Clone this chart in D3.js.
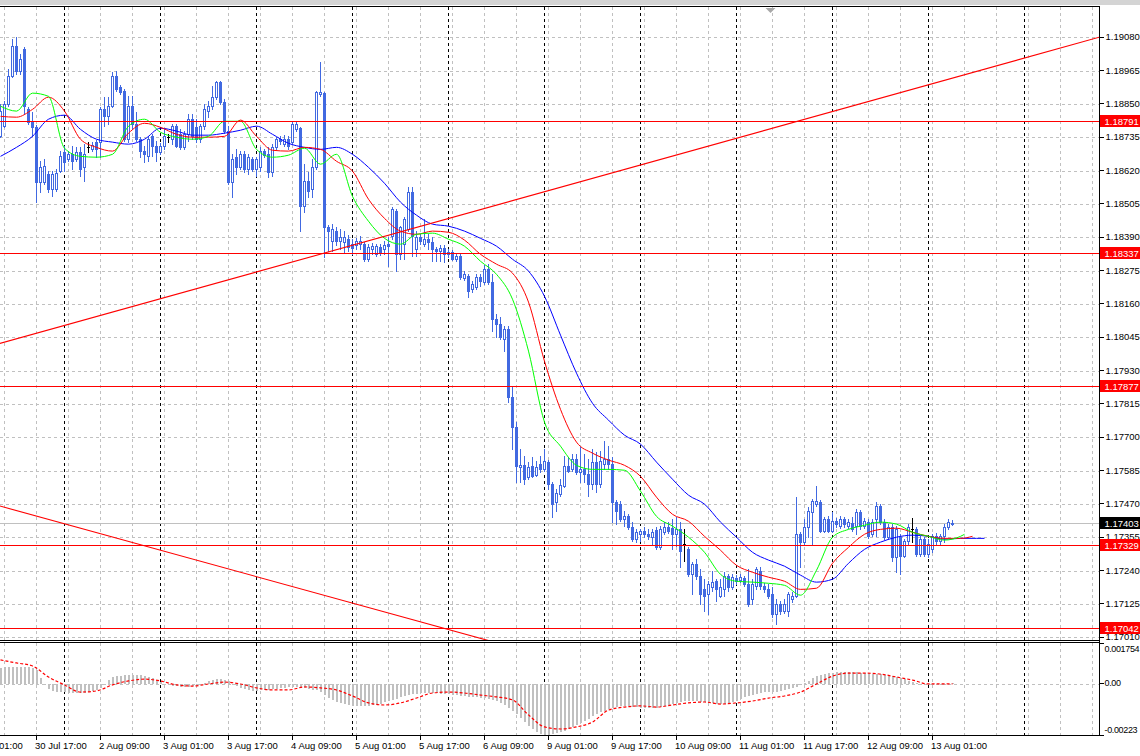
<!DOCTYPE html>
<html><head><meta charset="utf-8">
<script src="https://cdn.jsdelivr.net/npm/d3@7/dist/d3.min.js"></script>
<style>
html,body{margin:0;padding:0;background:#fff;}
svg{display:block;}
</style></head><body>
<svg id="chart" width="1140" height="756"></svg>
<script>
// ---------------- DATA ----------------
// EURUSD H1, bar 0 = 30 Jul 08:00, 24 bars per day
const opens = [
1.18738,1.18773,1.18849,1.18945,1.19049,1.18963,1.19038,1.18831,1.18790,1.18769,
1.18580,1.18580,1.18607,1.18555,1.18555,1.18618,1.18683,1.18659,1.18676,1.18659,
1.18683,1.18631,1.18700,1.18693,1.18718,1.18718,1.18831,1.18807,1.18842,1.18945,
1.18907,1.18894,1.18728,1.18842,1.18780,1.18728,1.18687,1.18669,1.18738,1.18704,
1.18683,1.18704,1.18735,1.18728,1.18773,1.18745,1.18700,1.18745,1.18797,1.18769,
1.18728,1.18773,1.18825,1.18842,1.18873,1.18925,1.18856,1.18756,1.18580,1.18666,
1.18631,1.18676,1.18624,1.18659,1.18624,1.18631,1.18687,1.18676,1.18614,1.18700,
1.18728,1.18711,1.18728,1.18718,1.18762,1.18766,1.18497,1.18583,1.18555,1.18631,
1.18883,1.18887,1.18424,1.18376,1.18411,1.18376,1.18373,1.18383,1.18366,1.18362,
1.18366,1.18366,1.18314,1.18348,1.18331,1.18355,1.18348,1.18366,1.18393,1.18480,
1.18331,1.18366,1.18417,1.18545,1.18348,1.18390,1.18366,1.18383,1.18373,1.18348,
1.18342,1.18352,1.18331,1.18338,1.18314,1.18324,1.18248,1.18255,1.18210,1.18217,
1.18252,1.18235,1.18279,1.18235,1.18107,1.18090,1.18038,1.18072,1.17838,1.17734,
1.17596,1.17603,1.17562,1.17600,1.17569,1.17607,1.17589,1.17614,1.17538,1.17476,
1.17503,1.17531,1.17600,1.17589,1.17624,1.17579,1.17589,1.17572,1.17538,1.17614,
1.17538,1.17607,1.17624,1.17607,1.17476,1.17469,1.17417,1.17427,1.17389,1.17348,
1.17365,1.17376,1.17365,1.17355,1.17379,1.17320,1.17372,1.17389,1.17386,1.17365,
1.17382,1.17331,1.17313,1.17227,1.17262,1.17220,1.17175,1.17158,1.17182,1.17203,
1.17151,1.17175,1.17220,1.17182,1.17213,1.17207,1.17213,1.17193,1.17141,1.17186,
1.17238,1.17186,1.17175,1.17158,1.17089,1.17124,1.17100,1.17100,1.17141,1.17151,
1.17365,1.17338,1.17389,1.17441,1.17469,1.17476,1.17376,1.17417,1.17376,1.17410,
1.17393,1.17417,1.17393,1.17403,1.17393,1.17441,1.17393,1.17407,1.17365,1.17417,
1.17462,1.17407,1.17355,1.17389,1.17286,1.17355,1.17289,1.17341,1.17382,1.17382,
1.17296,1.17348,1.17296,1.17313,1.17358,1.17341,1.17358,1.17389,1.17400];
const highs = [
1.18849,1.18859,1.18969,1.19073,1.19080,1.19021,1.19045,1.18838,1.18821,1.18776,
1.18652,1.18659,1.18618,1.18618,1.18624,1.18687,1.18704,1.18687,1.18704,1.18700,
1.18700,1.18711,1.18718,1.18718,1.18725,1.18838,1.18873,1.18873,1.18959,1.18963,
1.18914,1.18900,1.18876,1.18876,1.18821,1.18735,1.18704,1.18738,1.18745,1.18721,
1.18714,1.18762,1.18745,1.18780,1.18780,1.18762,1.18756,1.18814,1.18814,1.18797,
1.18780,1.18849,1.18859,1.18911,1.18928,1.18928,1.18866,1.18773,1.18676,1.18693,
1.18687,1.18687,1.18676,1.18666,1.18666,1.18700,1.18693,1.18700,1.18711,1.18735,
1.18738,1.18742,1.18738,1.18790,1.18790,1.18769,1.18642,1.18614,1.18659,1.18894,
1.18994,1.18890,1.18431,1.18435,1.18424,1.18417,1.18411,1.18397,1.18383,1.18386,
1.18393,1.18373,1.18366,1.18369,1.18366,1.18366,1.18376,1.18390,1.18493,1.18486,
1.18428,1.18459,1.18562,1.18562,1.18411,1.18400,1.18452,1.18400,1.18390,1.18355,
1.18362,1.18362,1.18348,1.18345,1.18331,1.18331,1.18273,1.18262,1.18238,1.18262,
1.18262,1.18293,1.18297,1.18262,1.18124,1.18114,1.18083,1.18083,1.17872,1.17752,
1.17658,1.17634,1.17614,1.17631,1.17617,1.17634,1.17658,1.17621,1.17545,1.17520,
1.17555,1.17634,1.17631,1.17641,1.17641,1.17665,1.17641,1.17624,1.17658,1.17648,
1.17652,1.17686,1.17669,1.17631,1.17483,1.17479,1.17445,1.17434,1.17407,1.17382,
1.17382,1.17389,1.17382,1.17382,1.17389,1.17393,1.17407,1.17407,1.17417,1.17424,
1.17407,1.17382,1.17320,1.17269,1.17279,1.17244,1.17210,1.17203,1.17238,1.17210,
1.17210,1.17234,1.17227,1.17227,1.17224,1.17227,1.17220,1.17244,1.17210,1.17251,
1.17251,1.17196,1.17193,1.17182,1.17141,1.17134,1.17141,1.17165,1.17165,1.17493,
1.17372,1.17417,1.17458,1.17486,1.17531,1.17483,1.17424,1.17427,1.17441,1.17420,
1.17427,1.17424,1.17417,1.17424,1.17451,1.17448,1.17420,1.17417,1.17417,1.17476,
1.17469,1.17417,1.17400,1.17400,1.17393,1.17365,1.17348,1.17400,1.17420,1.17389,
1.17358,1.17355,1.17348,1.17365,1.17369,1.17365,1.17400,1.17417,1.17414];
const lows = [
1.18735,1.18769,1.18842,1.18942,1.18952,1.18952,1.18814,1.18780,1.18738,1.18511,
1.18545,1.18573,1.18545,1.18531,1.18549,1.18614,1.18618,1.18652,1.18624,1.18652,
1.18600,1.18583,1.18683,1.18687,1.18666,1.18666,1.18773,1.18780,1.18838,1.18894,
1.18883,1.18721,1.18718,1.18762,1.18721,1.18666,1.18649,1.18652,1.18669,1.18652,
1.18676,1.18693,1.18718,1.18711,1.18700,1.18693,1.18693,1.18721,1.18728,1.18718,
1.18718,1.18762,1.18804,1.18831,1.18866,1.18849,1.18749,1.18573,1.18528,1.18607,
1.18624,1.18614,1.18607,1.18618,1.18600,1.18618,1.18666,1.18597,1.18600,1.18693,
1.18711,1.18704,1.18693,1.18711,1.18756,1.18411,1.18476,1.18528,1.18528,1.18624,
1.18876,1.18321,1.18342,1.18342,1.18362,1.18348,1.18338,1.18342,1.18331,1.18348,
1.18348,1.18307,1.18307,1.18331,1.18324,1.18328,1.18331,1.18290,1.18383,1.18273,
1.18314,1.18314,1.18411,1.18324,1.18324,1.18366,1.18359,1.18348,1.18307,1.18307,
1.18307,1.18304,1.18321,1.18311,1.18307,1.18245,1.18242,1.18183,1.18200,1.18210,
1.18221,1.18228,1.18228,1.18066,1.18045,1.18038,1.17997,1.17821,1.17658,1.17545,
1.17545,1.17538,1.17555,1.17562,1.17565,1.17579,1.17583,1.17520,1.17424,1.17445,
1.17496,1.17527,1.17579,1.17583,1.17572,1.17545,1.17545,1.17496,1.17520,1.17510,
1.17527,1.17589,1.17589,1.17407,1.17400,1.17410,1.17393,1.17382,1.17341,1.17338,
1.17341,1.17355,1.17348,1.17327,1.17313,1.17313,1.17365,1.17369,1.17313,1.17324,
1.17251,1.17272,1.17220,1.17158,1.17210,1.17124,1.17100,1.17089,1.17169,1.17134,
1.17148,1.17151,1.17169,1.17175,1.17193,1.17200,1.17186,1.17117,1.17124,1.17175,
1.17175,1.17165,1.17144,1.17079,1.17055,1.17089,1.17093,1.17082,1.17131,1.17148,
1.17251,1.17331,1.17355,1.17331,1.17462,1.17372,1.17372,1.17372,1.17372,1.17389,
1.17386,1.17389,1.17386,1.17376,1.17365,1.17382,1.17386,1.17351,1.17358,1.17358,
1.17400,1.17348,1.17348,1.17272,1.17234,1.17227,1.17286,1.17331,1.17338,1.17289,
1.17289,1.17289,1.17286,1.17303,1.17331,1.17331,1.17338,1.17382,1.17396];
const closes = [
1.18825,1.18849,1.18945,1.19049,1.18963,1.19004,1.18842,1.18787,1.18769,1.18580,
1.18631,1.18635,1.18555,1.18607,1.18611,1.18669,1.18649,1.18676,1.18652,1.18683,
1.18624,1.18676,1.18700,1.18707,1.18693,1.18831,1.18807,1.18842,1.18945,1.18900,
1.18890,1.18728,1.18842,1.18780,1.18728,1.18687,1.18676,1.18728,1.18704,1.18683,
1.18704,1.18738,1.18735,1.18773,1.18704,1.18700,1.18745,1.18797,1.18738,1.18728,
1.18773,1.18831,1.18842,1.18873,1.18925,1.18856,1.18756,1.18580,1.18659,1.18631,
1.18676,1.18624,1.18666,1.18624,1.18659,1.18687,1.18673,1.18614,1.18700,1.18728,
1.18721,1.18728,1.18704,1.18780,1.18780,1.18497,1.18583,1.18549,1.18631,1.18890,
1.18890,1.18424,1.18411,1.18417,1.18376,1.18390,1.18390,1.18355,1.18352,1.18376,
1.18376,1.18314,1.18355,1.18359,1.18359,1.18338,1.18362,1.18359,1.18486,1.18331,
1.18424,1.18452,1.18545,1.18393,1.18390,1.18376,1.18383,1.18373,1.18348,1.18342,
1.18352,1.18331,1.18338,1.18314,1.18324,1.18252,1.18262,1.18204,1.18228,1.18252,
1.18238,1.18279,1.18235,1.18107,1.18090,1.18045,1.18072,1.17838,1.17734,1.17600,
1.17603,1.17555,1.17596,1.17565,1.17596,1.17589,1.17617,1.17538,1.17469,1.17507,
1.17534,1.17600,1.17583,1.17624,1.17579,1.17589,1.17572,1.17538,1.17614,1.17538,
1.17617,1.17624,1.17607,1.17476,1.17445,1.17417,1.17427,1.17389,1.17348,1.17372,
1.17376,1.17365,1.17358,1.17372,1.17320,1.17382,1.17389,1.17376,1.17365,1.17382,
1.17307,1.17331,1.17227,1.17262,1.17220,1.17158,1.17151,1.17193,1.17200,1.17175,
1.17182,1.17220,1.17182,1.17217,1.17203,1.17217,1.17193,1.17124,1.17193,1.17244,
1.17186,1.17175,1.17151,1.17089,1.17124,1.17100,1.17124,1.17158,1.17151,1.17365,
1.17338,1.17389,1.17445,1.17479,1.17479,1.17376,1.17417,1.17376,1.17410,1.17400,
1.17417,1.17400,1.17407,1.17382,1.17441,1.17393,1.17410,1.17358,1.17407,1.17462,
1.17407,1.17355,1.17389,1.17286,1.17382,1.17289,1.17341,1.17389,1.17382,1.17296,
1.17348,1.17296,1.17331,1.17358,1.17341,1.17358,1.17389,1.17407,1.17403];

// Alligator lines, one value every 4 bars, last value at the given bar (lines are shifted forward)
const jawValues = [1.18669,1.18700,1.18738,1.18797,1.18811,1.18762,1.18728,1.18718,1.18711,1.18728,
1.18766,1.18756,1.18742,1.18742,1.18749,1.18759,1.18773,1.18745,1.18714,1.18700,
1.18693,1.18700,1.18676,1.18631,1.18576,1.18511,1.18466,1.18435,1.18428,1.18411,
1.18386,1.18359,1.18314,1.18273,1.18186,1.18052,1.17921,1.17817,1.17759,1.17707,
1.17676,1.17614,1.17555,1.17500,1.17469,1.17407,1.17355,1.17303,1.17276,1.17255,
1.17224,1.17200,1.17210,1.17265,1.17313,1.17338,1.17355,1.17362,1.17358,1.17348,
1.17351,1.17351,1.17351];
const jawLastBar = 246;
const teethValues = [1.18807,1.18804,1.18831,1.18873,1.18825,1.18728,1.18700,1.18687,1.18749,1.18783,
1.18769,1.18745,1.18735,1.18735,1.18738,1.18794,1.18738,1.18690,1.18687,1.18700,
1.18693,1.18652,1.18618,1.18521,1.18455,1.18411,1.18400,1.18411,1.18407,1.18380,
1.18331,1.18297,1.18266,1.18166,1.17962,1.17796,1.17683,1.17645,1.17621,1.17603,
1.17565,1.17493,1.17434,1.17410,1.17358,1.17310,1.17258,1.17234,1.17217,1.17203,
1.17175,1.17179,1.17265,1.17320,1.17365,1.17382,1.17386,1.17372,1.17358,1.17351,
1.17351,1.17358];
const teethLastBar = 243;
const lipsValues = [1.18842,1.18825,1.18887,1.18876,1.18697,1.18669,1.18666,1.18676,1.18773,1.18797,
1.18752,1.18735,1.18728,1.18738,1.18790,1.18790,1.18693,1.18666,1.18673,1.18697,
1.18642,1.18676,1.18531,1.18445,1.18386,1.18366,1.18400,1.18404,1.18383,1.18359,
1.18307,1.18262,1.18176,1.17997,1.17752,1.17669,1.17603,1.17589,1.17589,1.17586,
1.17514,1.17427,1.17393,1.17355,1.17303,1.17227,1.17203,1.17200,1.17196,1.17189,
1.17155,1.17241,1.17355,1.17382,1.17396,1.17407,1.17400,1.17372,1.17358,1.17345,
1.17358,1.17365];
const lipsLastBar = 241;

// MACD (12,26,9): main histogram one value per bar, signal every 4 bars
const macdHist = [
0.00067,0.00071,0.00071,0.00071,0.00071,0.00071,0.00071,0.00071,0.00067,0.00058,
0.00024,-0.00006,-0.00024,-0.00032,-0.00037,-0.00037,-0.00037,-0.00041,-0.00041,-0.00041,
-0.00041,-0.00041,-0.00037,-0.00032,-0.00028,-0.00019,-0.00002,0.00015,0.00028,0.00032,
0.00032,0.00037,0.00037,0.00037,0.00037,0.00037,0.00032,0.00028,0.00024,0.00015,
0.00006,-0.00002,-0.00006,-0.00011,-0.00011,-0.00015,-0.00015,-0.00015,-0.00011,-0.00011,
-0.00006,0.00002,0.00011,0.00015,0.00019,0.00019,0.00015,0.00011,-0.00002,-0.00011,
-0.00019,-0.00024,-0.00028,-0.00032,-0.00032,-0.00028,-0.00028,-0.00028,-0.00024,-0.00024,
-0.00019,-0.00019,-0.00015,-0.00015,-0.00015,-0.00019,-0.00019,-0.00024,-0.00028,-0.00028,
-0.00037,-0.00050,-0.00063,-0.00071,-0.00080,-0.00084,-0.00089,-0.00093,-0.00097,-0.00097,
-0.00097,-0.00097,-0.00097,-0.00093,-0.00093,-0.00089,-0.00080,-0.00076,-0.00071,-0.00067,
-0.00058,-0.00054,-0.00050,-0.00045,-0.00045,-0.00041,-0.00041,-0.00041,-0.00041,-0.00041,
-0.00045,-0.00045,-0.00045,-0.00050,-0.00050,-0.00054,-0.00054,-0.00058,-0.00058,-0.00058,
-0.00063,-0.00063,-0.00067,-0.00071,-0.00076,-0.00084,-0.00093,-0.00106,-0.00119,-0.00132,
-0.00149,-0.00167,-0.00184,-0.00197,-0.00210,-0.00219,-0.00223,-0.00223,-0.00219,-0.00214,
-0.00210,-0.00206,-0.00197,-0.00188,-0.00180,-0.00171,-0.00162,-0.00154,-0.00141,-0.00132,
-0.00123,-0.00119,-0.00110,-0.00106,-0.00102,-0.00097,-0.00097,-0.00097,-0.00102,-0.00102,
-0.00106,-0.00106,-0.00106,-0.00106,-0.00106,-0.00102,-0.00097,-0.00093,-0.00089,-0.00084,
-0.00080,-0.00076,-0.00076,-0.00076,-0.00076,-0.00080,-0.00080,-0.00084,-0.00084,-0.00089,
-0.00089,-0.00089,-0.00084,-0.00080,-0.00076,-0.00067,-0.00058,-0.00054,-0.00050,-0.00045,
-0.00041,-0.00037,-0.00037,-0.00037,-0.00037,-0.00032,-0.00028,-0.00024,-0.00019,-0.00015,
-0.00006,0.00002,0.00011,0.00024,0.00032,0.00037,0.00041,0.00045,0.00045,0.00050,
0.00050,0.00050,0.00050,0.00050,0.00050,0.00045,0.00045,0.00045,0.00041,0.00041,
0.00041,0.00037,0.00037,0.00032,0.00028,0.00024,0.00019,0.00011,0.00006,0.00002,
-0.00002,-0.00006,-0.00006,-0.00006,-0.00006,-0.00006,-0.00002,-0.00002,0.00002];
const signalValues = [0.00102,0.00089,0.00076,0.00028,-0.00006,-0.00037,-0.00032,-0.00006,0.00011,0.00019,
0.00011,-0.00006,-0.00011,-0.00002,0.00006,-0.00002,-0.00019,-0.00028,-0.00028,-0.00015,
-0.00019,-0.00028,-0.00054,-0.00084,-0.00093,-0.00084,-0.00063,-0.00041,-0.00037,-0.00041,
-0.00050,-0.00058,-0.00071,-0.00136,-0.00188,-0.00197,-0.00188,-0.00167,-0.00115,-0.00102,
-0.00097,-0.00102,-0.00093,-0.00084,-0.00080,-0.00089,-0.00084,-0.00076,-0.00063,-0.00054,
-0.00037,-0.00002,0.00032,0.00045,0.00045,0.00041,0.00028,0.00015,-0.00002,-0.00002,
-0.00002];
const signalLastBar = 238;

// Price levels / objects
const redLevels = [1.18791, 1.18337, 1.17877, 1.17329, 1.17042];
const bidPrice = 1.17403;
const trendUpBars = [0, 270], trendUpPrices = [1.18024, 1.19062];
const trendDownBars = [0, 120], trendDownPrices = [1.17462, 1.17006];

// Axis ticks
const priceTicks = [1.19080,1.18965,1.18850,1.18735,1.18620,1.18505,1.18390,1.18275,1.18160,1.18045,
1.17930,1.17815,1.17700,1.17585,1.17470,1.17355,1.17240,1.17125,1.17010];
const macdTicks = [0.001754, 0, -0.00223];
const macdTickLabels = ["0.001754", "0.00", "-0.00223"];
const timeLabels = ["30 Jul 01:00","30 Jul 17:00","2 Aug 09:00","3 Aug 01:00","3 Aug 17:00","4 Aug 09:00",
"5 Aug 01:00","5 Aug 17:00","6 Aug 09:00","9 Aug 01:00","9 Aug 17:00","10 Aug 09:00","11 Aug 01:00",
"11 Aug 17:00","12 Aug 09:00","13 Aug 01:00"];
const timeBars = [-7,9,25,41,57,73,89,105,121,137,153,169,185,201,217,233];

// ---------------- DRAWING ----------------
const FONT = "'Liberation Sans', Arial, sans-serif";
const FS = 9.5;
const svg = d3.select("#chart");
const plotR = 1099, mainTop = 7, mainBot = 640, macdTop = 643, macdBot = 735;

const x = d3.scaleLinear().domain([0, 274]).range([0.5, 1096.5]);
const y = d3.scaleLinear().domain([1.17010, 1.19080]).range([637.2, 37.2]);
const ym = d3.scaleLinear().domain([-0.00223, 0.001754]).range([735, 643]);
const crisp = v => Math.round(v) + 0.5;

svg.append("rect").attr("width", 1140).attr("height", 756).attr("fill", "#fff");
svg.append("rect").attr("width", 1140).attr("height", 5).attr("fill", "#d4d4d4");

const defs = svg.append("defs");
defs.append("clipPath").attr("id", "cm").append("rect")
  .attr("x", 0).attr("y", mainTop).attr("width", plotR).attr("height", mainBot - mainTop);
defs.append("clipPath").attr("id", "cd").append("rect")
  .attr("x", 0).attr("y", macdTop).attr("width", plotR).attr("height", macdBot - macdTop);

const gMain = svg.append("g").attr("clip-path", "url(#cm)");
const gMacd = svg.append("g").attr("clip-path", "url(#cd)");

// grids
const gridBars = d3.range(1, 275, 8);
const dayBars = d3.range(16, 275, 24);
[[gMain, mainTop, mainBot], [gMacd, macdTop, macdBot]].forEach(([g, t, b]) => {
  const gg = g.append("g").attr("shape-rendering", "crispEdges");
  gg.selectAll("line.vg").data(gridBars).join("line")
    .attr("x1", d => x(d)).attr("x2", d => x(d)).attr("y1", t).attr("y2", b)
    .attr("stroke", "#c0c0c0").attr("stroke-dasharray", "3,3");
  gg.selectAll("line.sep").data(dayBars).join("line")
    .attr("x1", d => x(d)).attr("x2", d => x(d)).attr("y1", t).attr("y2", b)
    .attr("stroke", "#000").attr("stroke-dasharray", "3,3");
});
gMain.append("g").attr("shape-rendering", "crispEdges")
  .selectAll("line").data(priceTicks).join("line")
  .attr("x1", 0).attr("x2", plotR).attr("y1", d => crisp(y(d))).attr("y2", d => crisp(y(d)))
  .attr("stroke", "#c0c0c0").attr("stroke-dasharray", "3,3");
gMacd.append("line").attr("shape-rendering", "crispEdges")
  .attr("x1", 0).attr("x2", plotR).attr("y1", crisp(ym(0))).attr("y2", crisp(ym(0)))
  .attr("stroke", "#c0c0c0").attr("stroke-dasharray", "3,3");

// bid line
gMain.append("line").attr("shape-rendering", "crispEdges")
  .attr("x1", 0).attr("x2", plotR).attr("y1", crisp(y(bidPrice))).attr("y2", crisp(y(bidPrice)))
  .attr("stroke", "#c0c0c0");

// candles
const CAND = "#4169e1";
const gc = gMain.append("g").attr("shape-rendering", "crispEdges");
opens.forEach((o, i) => {
  const h = highs[i], l = lows[i], c = closes[i];
  const cx = x(i);
  const doji = o === c;
  const col = doji ? "#000" : CAND;
  const top = Math.round(y(h)), bot = Math.round(y(l));
  gc.append("line").attr("x1", cx).attr("x2", cx).attr("y1", top).attr("y2", bot + 1).attr("stroke", col);
  const bt = Math.round(y(Math.max(o, c))), bb = Math.round(y(Math.min(o, c)));
  if (doji) {
    gc.append("line").attr("x1", cx - 1.5).attr("x2", cx + 1.5).attr("y1", bt + 0.5).attr("y2", bt + 0.5).attr("stroke", "#000");
  } else if (c > o) {
    gc.append("rect").attr("x", cx - 1).attr("y", bt + 0.5).attr("width", 2).attr("height", Math.max(bb - bt, 0))
      .attr("fill", "#fff").attr("stroke", col);
  } else {
    gc.append("rect").attr("x", cx - 1.5).attr("y", bt).attr("width", 3).attr("height", Math.max(bb - bt + 1, 1))
      .attr("fill", col);
  }
});

// Alligator
const toPts = (vals, lastBar) => vals.map((v, i) => [i === vals.length - 1 ? lastBar : i * 4, v]);
const maLine = d3.line().x(d => x(d[0])).y(d => y(d[1])).curve(d3.curveMonotoneX);
[[jawValues, jawLastBar, "#0000ff"], [teethValues, teethLastBar, "#ff0000"], [lipsValues, lipsLastBar, "#00ff00"]]
  .forEach(([vals, last, col]) => {
    gMain.append("path").attr("d", maLine(toPts(vals, last))).attr("fill", "none")
      .attr("stroke", col).attr("stroke-width", 1);
  });

// horizontal red levels
gMain.append("g").attr("shape-rendering", "crispEdges").selectAll("line").data(redLevels).join("line")
  .attr("x1", 0).attr("x2", plotR).attr("y1", d => crisp(y(d))).attr("y2", d => crisp(y(d)))
  .attr("stroke", "#ff0000");

// trend lines (extended)
function trend(bars, prices) {
  const k = (prices[1] - prices[0]) / (bars[1] - bars[0]);
  const b0 = -2, b1 = 276;
  gMain.append("line")
    .attr("x1", x(b0)).attr("y1", y(prices[0] + k * (b0 - bars[0])))
    .attr("x2", x(b1)).attr("y2", y(prices[0] + k * (b1 - bars[0])))
    .attr("stroke", "#ff0000").attr("stroke-width", 1.1);
}
trend(trendUpBars, trendUpPrices);
trend(trendDownBars, trendDownPrices);

// MACD histogram + signal
const z0 = Math.round(ym(0));
gMacd.append("g").attr("shape-rendering", "crispEdges")
  .selectAll("rect").data(macdHist).join("rect")
  .attr("x", (d, i) => x(i) - 0.5).attr("width", 2)
  .attr("y", d => Math.min(z0, Math.round(ym(d))))
  .attr("height", d => Math.max(1, Math.abs(Math.round(ym(d)) - z0)))
  .attr("fill", "#c0c0c0");
const sigLine = d3.line().x(d => x(d[0])).y(d => ym(d[1])).curve(d3.curveMonotoneX);
gMacd.append("path").attr("d", sigLine(toPts(signalValues, signalLastBar))).attr("fill", "none")
  .attr("stroke", "#ff0000").attr("stroke-width", 1.2).attr("stroke-dasharray", "3,2");

// top marker
svg.append("path").attr("d", "M765.5,8 L775.5,8 L770.5,13 Z").attr("fill", "#a8a8a8");

// borders
const gb = svg.append("g").attr("shape-rendering", "crispEdges").attr("stroke", "#000");
gb.append("line").attr("x1", 0).attr("x2", 1100).attr("y1", 6.5).attr("y2", 6.5);
gb.append("line").attr("x1", 0).attr("x2", 1100).attr("y1", 640.5).attr("y2", 640.5);
gb.append("line").attr("x1", 0).attr("x2", 1100).attr("y1", 642.5).attr("y2", 642.5);
gb.append("line").attr("x1", 0).attr("x2", 1100).attr("y1", 735.5).attr("y2", 735.5);
gb.append("line").attr("x1", 1099.5).attr("x2", 1099.5).attr("y1", 6).attr("y2", 736);

// price axis
const ax = svg.append("g").attr("transform", "translate(1099.5,0)")
  .call(d3.axisRight(y).tickValues(priceTicks).tickFormat(d3.format(".5f")).tickSize(4).tickPadding(2).offset(0));
ax.select(".domain").remove();
ax.attr("font-family", FONT).attr("font-size", FS).attr("shape-rendering", "crispEdges");

// MACD axis
const mx = svg.append("g").attr("transform", "translate(1099.5,0)")
  .call(d3.axisRight(ym).tickValues(macdTicks).tickFormat((d, i) => macdTickLabels[i]).tickSize(4).tickPadding(1).offset(0));
mx.select(".domain").remove();
mx.attr("font-family", FONT).attr("font-size", 9).attr("letter-spacing", "-0.35px").attr("shape-rendering", "crispEdges");
mx.selectAll("text").attr("dy", (d, i) => i === 0 ? "1.05em" : (i === 2 ? "-0.25em" : "0.32em"));

// time axis
const bx = svg.append("g").attr("transform", "translate(0,735.5)")
  .call(d3.axisBottom(x).tickValues(timeBars).tickFormat((d, i) => timeLabels[i]).tickSize(4).tickPadding(3).offset(0));
bx.select(".domain").remove();
bx.attr("font-family", FONT).attr("font-size", FS).attr("shape-rendering", "crispEdges");
bx.selectAll("text").attr("text-anchor", "start").attr("x", -1.5);

// price labels
const fmt = d3.format(".5f");
function priceTag(p, col) {
  const yy = Math.round(y(p));
  svg.append("rect").attr("x", 1100).attr("y", yy - 6).attr("width", 40).attr("height", 12).attr("fill", col);
  svg.append("text").attr("x", 1104.5).attr("y", yy + 0.5).attr("dy", "0.35em")
    .attr("font-family", FONT).attr("font-size", FS).attr("fill", "#fff").text(fmt(p));
}
redLevels.forEach(p => priceTag(p, "#ff0000"));
priceTag(bidPrice, "#000");
</script></body></html>
